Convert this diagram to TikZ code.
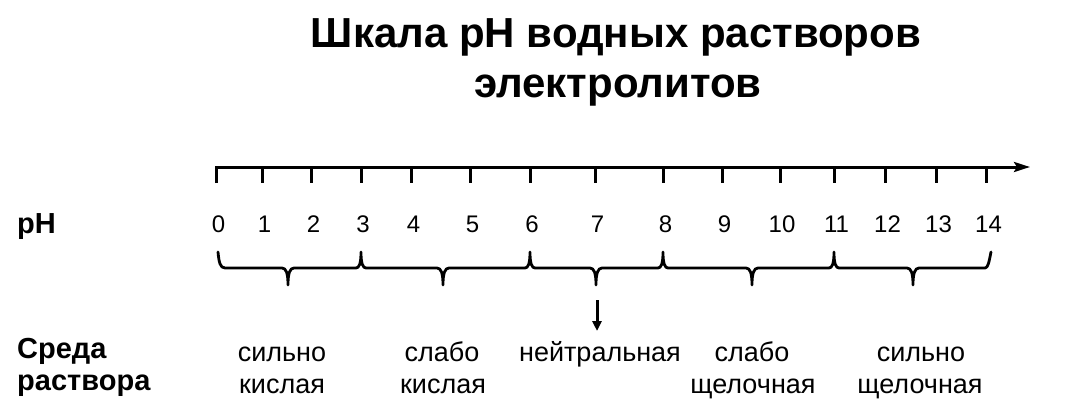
\documentclass[tikz,border=0pt]{standalone}
\usepackage{fontspec}
\setmainfont{Liberation Sans}
\usetikzlibrary{arrows.meta}
\begin{document}
\begin{tikzpicture}[x=1pt,y=-1pt,
  txt/.style={inner sep=0pt,anchor=base},
  titlefont/.style={font=\fontsize{42}{50}\selectfont\bfseries},
  lblbold/.style={inner sep=0pt,anchor=base west,font=\fontsize{29}{32}\selectfont\bfseries},
  numfont/.style={txt,font=\fontsize{24}{28}\selectfont},
  envfont/.style={txt,font=\fontsize{27}{32}\selectfont},
  axisline/.style={line width=3pt,line join=miter},
  tickline/.style={line width=3pt},
  bracestyle/.style={line width=2.8pt,line join=round,line cap=round},
  pointer/.style={line width=3pt,-{Triangle[length=10pt,width=9pt]}}]
\useasboundingbox (0,0) rectangle (1069,415);

% title
\node[txt,titlefont] (title1) at (616,47) {Шкала pH водных растворов};
\node[txt,titlefont] (title2) at (618,97) {электролитов};

% left labels
\node[lblbold] (phlbl) at (17,233) {pH};
\node[lblbold] (env1) at (17,358) {Среда};
\node[lblbold] (env2) at (17,390) {раствора};

% axis
\coordinate (axstart) at (216.5,183);
\coordinate (axcorner) at (216.5,167);
\coordinate (axend) at (1030,167);
\draw[axisline,-{Stealth[length=16pt,width=10pt,inset=3pt]}] (axstart) -- (axcorner) -- (axend);

% ticks and numbers
\foreach \v/\xx in {1/262.5,2/311.5,3/361,4/411.5,5/470.5,6/530,7/595.5,8/663.5,9/722.5,10/780,11/834.5,12/885.5,13/936.5,14/986.5}{
  \draw[tickline] (\xx,167) -- (\xx,183);
}
\foreach \v/\xx in {0/216.5,1/262.5,2/311.5,3/361,4/411.5,5/470.5,6/530,7/595.5,8/663.5,9/722.5,10/780,11/834.5,12/885.5,13/936.5,14/986.5}{
  \node[numfont] (n\v) at (\xx+2,232) {\v};
}

% braces
\draw[bracestyle] (218,252) .. controls (219,262) and (220,268) .. (225,268)
 -- (282,268) .. controls (286,268) and (288,273) .. (288,285)
 .. controls (288,273) and (290,268) .. (294,268)
 -- (356,268) .. controls (359,268) and (361,264) .. (361,252)
 .. controls (361,264) and (363,268) .. (366,268)
 -- (437,268) .. controls (441,268) and (443,273) .. (443,285)
 .. controls (443,273) and (445,268) .. (449,268)
 -- (525,268) .. controls (528,268) and (530,264) .. (530,252)
 .. controls (530,264) and (532,268) .. (535,268)
 -- (590,268) .. controls (594,268) and (596,273) .. (596,285)
 .. controls (596,273) and (598,268) .. (602,268)
 -- (658,268) .. controls (661,268) and (663,264) .. (663,252)
 .. controls (663,264) and (665,268) .. (668,268)
 -- (746,268) .. controls (750,268) and (752,273) .. (752,285)
 .. controls (752,273) and (754,268) .. (758,268)
 -- (829,268) .. controls (832,268) and (834,264) .. (834,252)
 .. controls (834,264) and (836,268) .. (839,268)
 -- (907,268) .. controls (911,268) and (913,273) .. (913,285)
 .. controls (913,273) and (915,268) .. (919,268)
 -- (985,268) .. controls (988,268) and (989,262) .. (991,252);

% pointer to neutral
\coordinate (ptrs) at (597,300);
\coordinate (ptre) at (597,331);
\draw[pointer] (ptrs) -- (ptre);

% environment labels
\node[envfont] (sa1) at (282,361) {сильно};
\node[envfont] (sa2) at (282,393) {кислая};
\node[envfont] (wa1) at (442,361) {слабо};
\node[envfont] (wa2) at (443,393) {кислая};
\node[envfont] (neu) at (600,361) {нейтральная};
\node[envfont] (wb1) at (752,361) {слабо};
\node[envfont] (wb2) at (753,393) {щелочная};
\node[envfont] (sb1) at (921,361) {сильно};
\node[envfont] (sb2) at (920,393) {щелочная};
\end{tikzpicture}
\end{document}
